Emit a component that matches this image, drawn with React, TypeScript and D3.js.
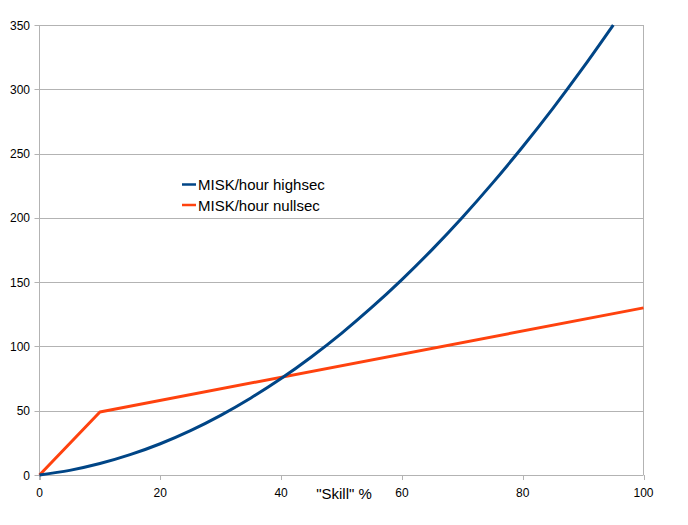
import React from "react";
import * as d3 from "d3";

const skill = [0, 5, 10, 15, 20, 25, 30, 35, 40, 45, 50, 55, 60, 65, 70, 75, 80, 85, 90, 95];
const highsec = [0, 3.6, 8.9, 15.8, 24.3, 34.5, 46.4, 59.9, 75.0, 91.8, 110.2, 130.3, 152.0, 175.3, 200.3, 227.0, 255.3, 285.2, 316.8, 350.0];
const nullSkill = [0, 10, 100];
const nullsec = [0, 49, 130];
const yTicks = [0, 50, 100, 150, 200, 250, 300, 350];
const xTicks = [0, 20, 40, 60, 80, 100];
const seriesNames = ["MISK/hour highsec", "MISK/hour nullsec"];
const colors = ["#004586", "#ff420e"];

export default function App() {
  const W = 688, H = 525;
  const left = 39.5, right = 643.5, top = 25, bottom = 475;
  const x = d3.scaleLinear().domain([0, 100]).range([left, right]);
  const y = d3.scaleLinear().domain([0, 350]).range([bottom, top]);
  const font = "'Liberation Sans', Arial, sans-serif";

  const hiLine = d3.line<number>().x((_, i) => x(skill[i])).y((d) => y(d)).curve(d3.curveMonotoneX)(highsec) || "";
  const nuLine = d3.line<number>().x((_, i) => x(nullSkill[i])).y((d) => y(d))(nullsec) || "";

  return (
    <svg width={W} height={H} style={{ position: "absolute", left: 0, top: 0, background: "#fff" }}>
      <rect x={0} y={0} width={W} height={H} fill="#fff" />
      {yTicks.map((t) => (
        <g key={"y" + t}>
          <line x1={left - 5} x2={right} y1={Math.round(y(t)) + 0.5} y2={Math.round(y(t)) + 0.5} stroke="#b3b3b3" strokeWidth={1} />
          <text x={30} y={y(t) + 4.5} textAnchor="end" fontFamily={font} fontSize={12} fill="#000">{t}</text>
        </g>
      ))}
      <line x1={left} x2={left} y1={top} y2={bottom + 5} stroke="#b3b3b3" />
      <line x1={right} x2={right} y1={top} y2={bottom} stroke="#b3b3b3" />
      {xTicks.map((t) => (
        <g key={"x" + t}>
          <line x1={Math.round(x(t)) + 0.5} x2={Math.round(x(t)) + 0.5} y1={bottom} y2={bottom + 5} stroke="#b3b3b3" />
          <text x={x(t)} y={497} textAnchor="middle" fontFamily={font} fontSize={12} fill="#000">{t}</text>
        </g>
      ))}
      <text x={344} y={499} textAnchor="middle" fontFamily={font} fontSize={15} fill="#000">"Skill" %</text>
      <path d={nuLine} fill="none" stroke={colors[1]} strokeWidth={3} strokeLinejoin="round" />
      <path d={hiLine} fill="none" stroke={colors[0]} strokeWidth={3} strokeLinejoin="round" />
      {seriesNames.map((n, i) => (
        <g key={n}>
          <line x1={182} x2={196} y1={184.5 + i * 20.5} y2={184.5 + i * 20.5} stroke={colors[i]} strokeWidth={2.5} />
          <text x={198} y={190 + i * 20.5} fontFamily={font} fontSize={15} fill="#000">{n}</text>
        </g>
      ))}
    </svg>
  );
}
